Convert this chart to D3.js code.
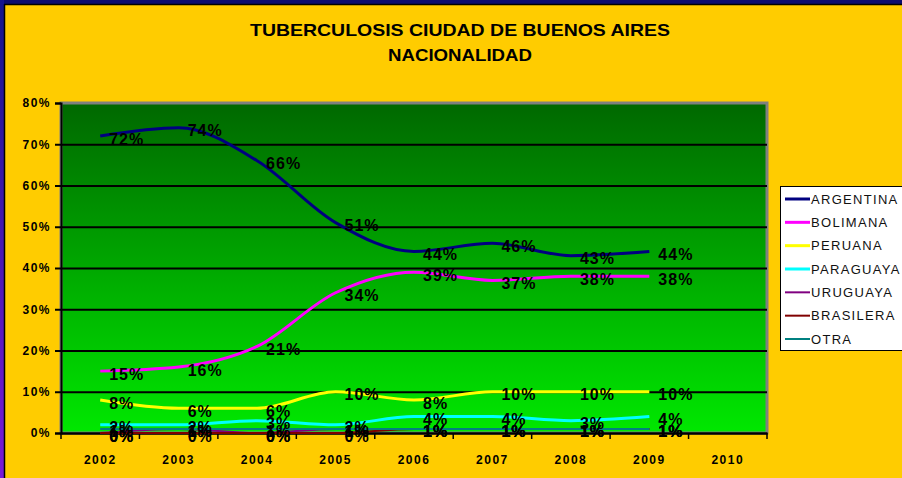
<!DOCTYPE html>
<html>
<head>
<meta charset="utf-8">
<script src="https://d3js.org/d3.v7.min.js"></script>
<style>
  body { margin: 0; background: #FFCC00; }
  svg { display: block; }
  .grid line { stroke: #000; stroke-width: 2; }
  .grid .domain { display: none; }
  .yaxis text, .xaxis text {
    font-family: Arial, "Liberation Sans", sans-serif;
    font-weight: bold;
    font-size: 12px;
    letter-spacing: 1.5px;
    fill: #000;
  }
  .lbl {
    font-family: Arial, "Liberation Sans", sans-serif;
    font-weight: bold;
    font-size: 16px;
    letter-spacing: 1px;
    fill: #000;
  }
  .legend text {
    font-family: Arial, "Liberation Sans", sans-serif;
    font-size: 13px;
    letter-spacing: 1.3px;
    fill: #111;
  }
</style>
</head>
<body>
<svg id="chart"></svg>
<script>
const WIDTH  = 902;
const HEIGHT = 478;
const PLOT   = { left: 61, right: 767, top: 103, bottom: 433 };

// data
const years = ['2002','2003','2004','2005','2006','2007','2008','2009','2010'];
const yTicks = [0, 0.1, 0.2, 0.3, 0.4, 0.5, 0.6, 0.7, 0.8];

const argentina = [72, 74, 66, 51, 44, 46, 43, 44];
const bolimana  = [15, 16, 21, 34, 39, 37, 38, 38];
const peruana   = [8, 6, 6, 10, 8, 10, 10, 10];
const paraguaya = [2, 2, 3, 2, 4, 4, 3, 4];
const uruguaya  = [0, 1, 0, 1, 1, 1, 1, 1];
const brasilera = [0, 0, 0, 0, 1, 1, 1, 1];
const otra      = [1, 1, 1, 1, 1, 1, 1, 1];

const series = [
  { name: 'ARGENTINA', values: argentina, color: '#000080', w: 3 },
  { name: 'BOLIMANA',  values: bolimana,  color: '#FF00FF', w: 3 },
  { name: 'PERUANA',   values: peruana,   color: '#FFFF00', w: 3 },
  { name: 'PARAGUAYA', values: paraguaya, color: '#00FFFF', w: 3 },
  { name: 'URUGUAYA',  values: uruguaya,  color: '#800080', w: 2 },
  { name: 'BRASILERA', values: brasilera, color: '#800000', w: 2 },
  { name: 'OTRA',      values: otra,      color: '#008080', w: 2 }
];

const svg = d3.select('#chart')
  .attr('width', WIDTH)
  .attr('height', HEIGHT);

const defs = svg.append('defs');
const g1 = defs.append('linearGradient').attr('id', 'plotgrad')
  .attr('x1', 0).attr('y1', 0).attr('x2', 0).attr('y2', 1);
g1.append('stop').attr('offset', '0%').attr('stop-color', '#006800');
g1.append('stop').attr('offset', '100%').attr('stop-color', '#00E800');

const g2 = defs.append('linearGradient').attr('id', 'sidegrad')
  .attr('x1', 0).attr('y1', 0).attr('x2', 0).attr('y2', 1);
g2.append('stop').attr('offset', '0%').attr('stop-color', '#14148c');
g2.append('stop').attr('offset', '100%').attr('stop-color', '#7a1ad8');

// frame of the slide
svg.append('rect').attr('x', 0).attr('y', 0).attr('width', WIDTH).attr('height', HEIGHT).attr('fill', '#FFCC00');
svg.append('rect').attr('x', 0).attr('y', 0).attr('width', WIDTH).attr('height', 4).attr('fill', '#0c0c6e');
svg.append('rect').attr('x', 0).attr('y', 0).attr('width', 4).attr('height', HEIGHT).attr('fill', 'url(#sidegrad)');
svg.append('line').attr('x1', 4).attr('x2', WIDTH).attr('y1', 4.5).attr('y2', 4.5).attr('stroke', '#000').attr('stroke-width', 1.5);
svg.append('line').attr('x1', 4.5).attr('x2', 4.5).attr('y1', 4).attr('y2', HEIGHT).attr('stroke', '#000').attr('stroke-width', 1.5);

// title
svg.append('text')
  .attr('x', 460).attr('y', 36)
  .attr('text-anchor', 'middle')
  .attr('textLength', 420).attr('lengthAdjust', 'spacingAndGlyphs')
  .style('font-family', 'Arial, sans-serif').style('font-weight', 'bold').style('font-size', '17px')
  .text('TUBERCULOSIS CIUDAD DE BUENOS AIRES');
svg.append('text')
  .attr('x', 460).attr('y', 61)
  .attr('text-anchor', 'middle')
  .attr('textLength', 144).attr('lengthAdjust', 'spacingAndGlyphs')
  .style('font-family', 'Arial, sans-serif').style('font-weight', 'bold').style('font-size', '17px')
  .text('NACIONALIDAD');

const x = d3.scaleBand()
  .domain(years)
  .range([PLOT.left, PLOT.right]);

const y = d3.scaleLinear()
  .domain([0, 0.8])
  .range([PLOT.bottom, PLOT.top]);

// plot area
svg.append('rect')
  .attr('x', PLOT.left).attr('y', PLOT.top)
  .attr('width', PLOT.right - PLOT.left).attr('height', PLOT.bottom - PLOT.top)
  .attr('fill', 'url(#plotgrad)')
  .attr('stroke', '#808080').attr('stroke-width', 3);

// gridlines
svg.append('g')
  .attr('class', 'grid')
  .attr('transform', 'translate(' + PLOT.left + ',0)')
  .call(d3.axisLeft(y).tickValues(yTicks.slice(1, -1)).tickSize(-(PLOT.right - PLOT.left)).tickFormat(''));

// y axis
svg.append('g')
  .attr('class', 'yaxis')
  .attr('transform', 'translate(' + PLOT.left + ',0)')
  .call(d3.axisLeft(y).tickValues(yTicks).tickSize(6).tickPadding(4).tickFormat(d3.format('.0%')))
  .call(g => g.select('.domain').attr('stroke', '#000').attr('stroke-width', 2))
  .call(g => g.selectAll('line').attr('stroke', '#000').attr('stroke-width', 2));

// x axis: labels at band centres, ticks on band edges
const xAxis = svg.append('g')
  .attr('class', 'xaxis')
  .attr('transform', 'translate(0,' + PLOT.bottom + ')')
  .call(d3.axisBottom(x).tickSize(0).tickPadding(22))
  .call(g => g.select('.domain').attr('stroke', '#000').attr('stroke-width', 2.5));

const edges = years.map(d => x(d)).concat([x.range()[1]]);
xAxis.selectAll('.edge')
  .data(edges)
  .enter().append('line')
  .attr('class', 'edge')
  .attr('x1', d => d).attr('x2', d => d)
  .attr('y1', 0).attr('y2', 6)
  .attr('stroke', '#000').attr('stroke-width', 1.5);

// lines (smoothed like the original)
const line = d3.line()
  .x((d, i) => x(years[i]) + x.bandwidth() / 2)
  .y(d => y(d / 100))
  .curve(d3.curveMonotoneX);

const plot = svg.append('g');
series.forEach(s => {
  plot.append('path')
    .datum(s.values)
    .attr('fill', 'none')
    .attr('stroke', s.color)
    .attr('stroke-width', s.w)
    .attr('d', line);
});

// data labels
series.forEach(s => {
  plot.append('g').selectAll('text')
    .data(s.values)
    .enter().append('text')
    .attr('class', 'lbl')
    .attr('x', (d, i) => x(years[i]) + x.bandwidth() / 2 + 9)
    .attr('y', d => y(d / 100) + 3)
    .attr('dy', '0.35em')
    .text(d => d + '%');
});

// legend
const legend = svg.append('g').attr('class', 'legend');
legend.append('rect')
  .attr('x', 780.5).attr('y', 186.5)
  .attr('width', 140).attr('height', 164)
  .attr('fill', '#fff').attr('stroke', '#000');

const ly = d3.scalePoint()
  .domain(series.map(s => s.name))
  .range([199, 339]);

series.forEach(s => {
  legend.append('line')
    .attr('x1', 785).attr('x2', 810)
    .attr('y1', ly(s.name)).attr('y2', ly(s.name))
    .attr('stroke', s.color).attr('stroke-width', s.w);
  legend.append('text')
    .attr('x', 811).attr('y', ly(s.name))
    .attr('dy', '0.36em')
    .text(s.name);
});
</script>
</body>
</html>
